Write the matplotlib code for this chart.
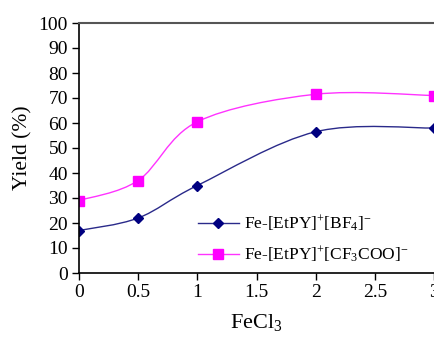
import numpy as np
import matplotlib
matplotlib.use('Agg')
import matplotlib.pyplot as plt
from matplotlib.path import Path
from matplotlib.patches import PathPatch

fecl3 = [0, 0.5, 1, 2, 3]
yield_bf4 = [17, 22, 35, 56.5, 58]
yield_cf3coo = [29, 37, 60.5, 71.5, 71]
labels = ['Fe-[EtPY]$^{+}$[BF$_4$]$^{-}$', 'Fe-[EtPY]$^{+}$[CF$_3$COO]$^{-}$']
xticks = [0, 0.5, 1, 1.5, 2, 2.5, 3]
xticklabels = ['0', '0.5', '1', '1.5', '2', '2.5', '3']
yticks = list(range(0, 101, 10))


def smooth_path(x, y, t=1.0 / 6):
    # bezier path through the points, like a spreadsheet "smoothed line"
    x = np.asarray(x, float)
    y = np.asarray(y, float)
    verts = [(x[0], y[0])]
    codes = [Path.MOVETO]
    n = len(x)
    for i in range(n - 1):
        i0 = max(i - 1, 0)
        i3 = min(i + 2, n - 1)
        c1 = (x[i] + (x[i + 1] - x[i0]) * t, y[i] + (y[i + 1] - y[i0]) * t)
        c2 = (x[i + 1] - (x[i3] - x[i]) * t, y[i + 1] - (y[i3] - y[i]) * t)
        verts += [c1, c2, (x[i + 1], y[i + 1])]
        codes += [Path.CURVE4] * 3
    return Path(verts, codes)


plt.rcParams['font.family'] = ['Liberation Serif', 'DejaVu Serif']
plt.rcParams['mathtext.fontset'] = 'custom'
plt.rcParams['mathtext.rm'] = 'Liberation Serif'
plt.rcParams['mathtext.it'] = 'Liberation Serif'

fig = plt.figure(figsize=(4.34, 3.37), dpi=100)
ax = fig.add_axes([79 / 434, 64 / 337, 355 / 434, 250 / 337])

series = [
    (yield_bf4, '#000080', '#2a2a8a', 'D', 5),
    (yield_cf3coo, '#ff00ff', '#ff33ff', 's', 6.5),
]
for (ys, mc, lc, mk, ms), lab in zip(series, labels):
    ax.add_patch(PathPatch(smooth_path(fecl3, ys), facecolor='none',
                           edgecolor=lc, lw=1.0))
    ax.plot(fecl3, ys, linestyle='none', marker=mk, color=mc, ms=ms)
    ax.plot([], [], color=lc, lw=1.0, marker=mk, mfc=mc, mec=mc, ms=ms, label=lab)

ax.set_xlim(0, 3)
ax.set_ylim(0, 100)
ax.set_xticks(xticks)
ax.set_xticklabels(xticklabels)
ax.set_yticks(yticks)
ax.tick_params(direction='out', length=5, width=1, labelsize=14, pad=3)
ax.spines['right'].set_visible(False)
ax.spines['top'].set_color('#555555')
ax.spines['top'].set_linewidth(1.5)
for s in ['left', 'bottom']:
    ax.spines[s].set_linewidth(1.2)

ax.set_ylabel('Yield (%)', fontsize=15.5, labelpad=4)
ax.set_xlabel('FeCl$_3$', fontsize=16, labelpad=8)

ax.legend(loc='lower left', bbox_to_anchor=(0.29, -0.03), frameon=False,
          fontsize=12.5, handlelength=2.4, handletextpad=0.3, labelspacing=0.6)

fig.savefig('out.png', dpi=100)
